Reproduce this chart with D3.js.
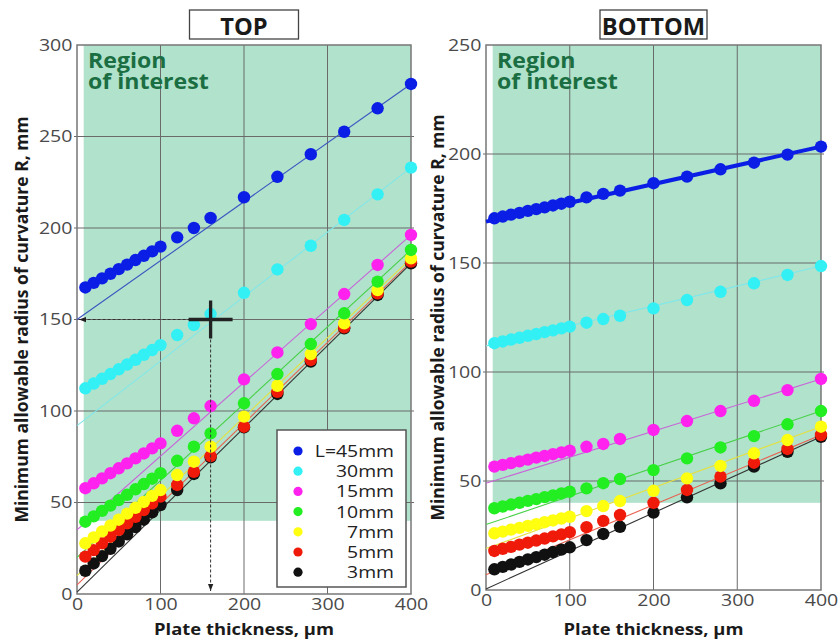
<!DOCTYPE html>
<html>
<head>
<meta charset="utf-8">
<script src="https://cdn.jsdelivr.net/npm/d3@7"></script>
<style>
  body { margin: 0; background: #fff; }
  svg { display: block; }
</style>
</head>
<body>
<script>
// plate thickness (µm) where R was computed
const thickness = [10, 20, 30, 40, 50, 60, 70, 80, 90, 100, 120, 140, 160, 200, 240, 280, 320, 360, 400];

// TOP panel, minimum allowable radius R (mm) per plate length
const top45 = [167.5, 170, 172.5, 175, 177.5, 180, 182.5, 184.8, 187.2, 189.8, 194.9, 200, 205.5, 216.8, 228, 240.3, 252.6, 265.4, 278.7];
const top30 = [112.4, 115, 117.6, 120.2, 122.8, 125.4, 128, 130.7, 133.3, 136, 141.5, 147, 153, 164.6, 177.4, 190.3, 204.4, 218.4, 233];
const top15 = [57.8, 60.5, 63.2, 66, 68.7, 71.4, 74.1, 76.8, 79.6, 82.3, 89.2, 96, 102.7, 117.3, 132, 147.5, 163.9, 179.8, 196.2];
const top10 = [39.5, 42.4, 45.4, 48.3, 51.3, 54.2, 57.2, 60.1, 63, 66, 72.8, 80.5, 87.8, 104.2, 120.2, 136.6, 153.4, 170.7, 188];
const top7 = [27.7, 30.9, 34.2, 37.4, 40.6, 43.9, 47.1, 50.3, 53.6, 56.8, 65, 72.3, 80.5, 96.9, 113.8, 131.1, 147.9, 166.1, 183.4];
const top5 = [20.4, 24, 27.7, 31.3, 35, 38.6, 42.2, 45.9, 49.5, 53.2, 59.6, 66.8, 75.4, 91.4, 110.5, 127.9, 145.7, 164.3, 181.6];
const top3 = [12.7, 16.7, 20.7, 24.7, 28.7, 32.6, 36.6, 40.6, 44.6, 48.6, 56.8, 65.6, 74.7, 91.1, 109.3, 127, 145.2, 163.4, 180.7];

// BOTTOM panel
const bot45 = [170.5, 171.3, 172.2, 173, 173.9, 174.7, 175.5, 176.4, 177.2, 178.1, 180.1, 181.7, 183.2, 186.6, 189.6, 193, 196, 199.7, 203.4];
const bot30 = [113.2, 114, 114.9, 115.7, 116.6, 117.4, 118.3, 119.1, 120, 120.8, 122.6, 124.3, 125.8, 129.2, 133, 136.8, 140.7, 144.5, 148.6];
const bot15 = [56.6, 57.4, 58.2, 59, 59.8, 60.7, 61.5, 62.3, 63.1, 63.9, 65.7, 67, 69.3, 73.4, 77.5, 82.1, 86.8, 91.7, 96.8];
const bot10 = [37.5, 38.3, 39.2, 40, 40.9, 41.7, 42.6, 43.4, 44.3, 45.1, 46.6, 49, 50.9, 55, 60.4, 65.4, 70.6, 76, 82.1];
const bot7 = [26, 26.8, 27.7, 28.5, 29.4, 30.2, 31.1, 31.9, 32.8, 33.6, 36.2, 38.5, 40.8, 45.5, 51.2, 56.9, 62.7, 68.8, 74.9];
const bot5 = [17.9, 18.9, 19.8, 20.8, 21.7, 22.7, 23.6, 24.6, 25.5, 26.5, 28.8, 31.7, 34.4, 40, 45.9, 52, 58.4, 64.7, 71.1];
const bot3 = [9.5, 10.6, 11.7, 12.9, 14, 15.1, 16.2, 17.4, 18.5, 19.6, 22.9, 25.7, 29, 35.5, 42.5, 48.9, 56.6, 63.4, 70.3];

// straight trend lines, value at 0 µm and at 400 µm
const topFitAt0 = [150, 92, 35, 20, 10, 5, 1];
const topFitAt400 = [278.7, 233, 196.2, 188, 183.4, 181.6, 180.7];
const botFitAt0 = [169, 112, 49, 30, 19, 7, 0.5];
const botFitAt400 = [203.4, 148.6, 96.8, 82.1, 74.9, 71.1, 70.3];

const legendLabels = ["L=45mm", "30mm", "15mm", "10mm", "7mm", "5mm", "3mm"];
const xTicks = [0, 100, 200, 300, 400];
const topYTicks = [0, 50, 100, 150, 200, 250, 300];
const botYTicks = [0, 50, 100, 150, 200, 250];
const regionFrom = 8;     // µm, left edge of region of interest
const regionMinR = 40;    // mm
const markThickness = 160;
const markRadius = 150;

const dotColors = ["#0a1ee6", "#33f0f5", "#ff22ee", "#22ee22", "#ffff10", "#f01a0a", "#111111"];
const fitColors = ["#3a55c0", "#80e8ea", "#c864d8", "#48d048", "#e4e040", "#e86050", "#333333"];

const W = 839, H = 639;
const svg = d3.select("body").append("svg")
    .attr("width", W).attr("height", H)
    .style("font-family", "'Open Sans', sans-serif");

const defs = svg.append("defs");
defs.append("marker")
    .attr("id", "arrow")
    .attr("viewBox", "0 -4 8 8")
    .attr("refX", 8).attr("refY", 0)
    .attr("markerWidth", 7).attr("markerHeight", 7)
    .attr("markerUnits", "userSpaceOnUse")
    .attr("orient", "auto")
    .append("path").attr("d", "M0,-3L8,0L0,3Z").attr("fill", "#222");

// text that is a bit wider than the font, like the original figure
function label(g, x, y, str, size, weight, anchor, fill, sx, rot) {
    return g.append("text")
        .attr("transform", `translate(${x},${y}) scale(${sx},1)` + (rot ? ` rotate(${rot})` : ""))
        .attr("text-anchor", anchor)
        .attr("font-size", size)
        .attr("font-weight", weight)
        .attr("fill", fill)
        .text(str);
}

const panels = [
    { title: "TOP", xr: [77, 411], yr: [594, 45], yMax: 300, yTicks: topYTicks,
      series: [top45, top30, top15, top10, top7, top5, top3],
      fit0: topFitAt0, fit400: topFitAt400, yTitleX: 21, thickFirst: false, legend: true, mark: true },
    { title: "BOTTOM", xr: [486, 821], yr: [590, 45], yMax: 250, yTicks: botYTicks,
      series: [bot45, bot30, bot15, bot10, bot7, bot5, bot3],
      fit0: botFitAt0, fit400: botFitAt400, yTitleX: 437, thickFirst: true, legend: false, mark: false }
];

panels.forEach(drawPanel);

function drawPanel(p) {
    const x = d3.scaleLinear().domain([0, 400]).range(p.xr);
    const y = d3.scaleLinear().domain([0, p.yMax]).range(p.yr);
    const g = svg.append("g");

    // region of interest
    g.append("rect")
        .attr("x", x(regionFrom)).attr("y", y(p.yMax))
        .attr("width", x(400) - x(regionFrom))
        .attr("height", y(regionMinR) - y(p.yMax))
        .attr("fill", "#b0e2cc");

    // grid
    g.selectAll(".vgrid").data(xTicks.slice(1, -1)).join("line")
        .attr("x1", d => x(d)).attr("x2", d => x(d))
        .attr("y1", y(0)).attr("y2", y(p.yMax))
        .attr("stroke", "#6a6a6a").attr("stroke-width", 1);
    g.selectAll(".hgrid").data(p.yTicks.slice(1, -1)).join("line")
        .attr("x1", x(0) - 3).attr("x2", x(400) + 3)
        .attr("y1", d => y(d)).attr("y2", d => y(d))
        .attr("stroke", "#6a6a6a").attr("stroke-width", 1);

    // frame
    g.append("rect")
        .attr("x", x(0)).attr("y", y(p.yMax))
        .attr("width", x(400) - x(0)).attr("height", y(0) - y(p.yMax))
        .attr("fill", "none").attr("stroke", "#777").attr("stroke-width", 1.5);

    // axes
    const xAxis = d3.axisBottom(x).tickValues(xTicks).tickSize(0).tickPadding(4);
    const yAxis = d3.axisLeft(y).tickValues(p.yTicks).tickSize(0).tickPadding(4);
    const gx = g.append("g").attr("transform", `translate(0,${y(0)})`).call(xAxis);
    const gy = g.append("g").attr("transform", `translate(${x(0)},0)`).call(yAxis);
    [gx, gy].forEach(a => {
        a.select(".domain").remove();
        a.selectAll("text")
            .attr("font-size", 17).attr("font-family", "'Open Sans', sans-serif")
            .attr("fill", "#4a4a4a").attr("transform", "scale(1.15,1)");
    });

    // region label
    label(g, x(0) + 11, 68, "Region", 21, 700, "start", "#1b6e42", 1.1);
    label(g, x(0) + 11, 89, "of interest", 21, 700, "start", "#1b6e42", 1.1);

    // trend lines
    const fits = p.fit0.map((v, i) => ({ i, a: v, b: p.fit400[i] }));
    g.selectAll(".fit").data(fits).join("line")
        .attr("x1", x(0)).attr("x2", x(400))
        .attr("y1", d => y(d.a)).attr("y2", d => y(d.b))
        .attr("stroke", d => (p.thickFirst && d.i === 0) ? dotColors[0] : fitColors[d.i])
        .attr("stroke-width", d => (p.thickFirst && d.i === 0) ? 4 : 1.1);

    // dots, 3mm drawn first so longer plates sit on top
    const order = d3.range(p.series.length).reverse();
    order.forEach(i => {
        g.append("g").selectAll("circle")
            .data(thickness.map((t, k) => [t, p.series[i][k]]))
            .join("circle")
            .attr("cx", d => x(d[0])).attr("cy", d => y(d[1]))
            .attr("r", 6.2)
            .attr("fill", dotColors[i]);
    });

    // example read-out on the TOP panel
    if (p.mark) {
        const cx = x(markThickness), cy = y(markRadius);
        g.append("line")
            .attr("x1", cx).attr("y1", cy).attr("x2", x(0) + 2).attr("y2", cy)
            .attr("stroke", "#333").attr("stroke-width", 1).attr("stroke-dasharray", "3,2")
            .attr("marker-end", "url(#arrow)");
        g.append("line")
            .attr("x1", cx).attr("y1", cy).attr("x2", cx).attr("y2", y(0) - 3)
            .attr("stroke", "#333").attr("stroke-width", 1).attr("stroke-dasharray", "3,2")
            .attr("marker-end", "url(#arrow)");
        g.append("line").attr("x1", cx - 22).attr("x2", cx + 22).attr("y1", cy).attr("y2", cy)
            .attr("stroke", "#222").attr("stroke-width", 3.3);
        g.append("line").attr("x1", cx).attr("x2", cx).attr("y1", cy - 19).attr("y2", cy + 19)
            .attr("stroke", "#222").attr("stroke-width", 3.3);
    }

    // legend
    if (p.legend) {
        const lg = g.append("g");
        lg.append("rect").attr("x", 277).attr("y", 430).attr("width", 129).attr("height", 157)
            .attr("fill", "#fff").attr("stroke", "#555").attr("stroke-width", 1.5);
        legendLabels.forEach((t, i) => {
            const ly = 451 + i * 20.2;
            lg.append("circle").attr("cx", 298).attr("cy", ly).attr("r", 4.6).attr("fill", dotColors[i]);
            label(lg, 394, ly + 6, t, 17, 400, "end", "#222", 1.14);
        });
    }

    // titles
    const mid = (p.xr[0] + p.xr[1]) / 2;
    const tw = p.title === "TOP" ? 109 : 107;
    g.append("rect").attr("x", mid - tw / 2).attr("y", 10).attr("width", tw).attr("height", 29)
        .attr("fill", "#fff").attr("stroke", "#444").attr("stroke-width", 1.3);
    label(g, mid, 35, p.title, 23, 700, "middle", "#1a1a1a", 1.03);
    label(g, mid, 635, "Plate thickness, µm", 16, 700, "middle", "#1a1a1a", 1.15);
    label(g, p.yTitleX, (p.yr[0] + p.yr[1]) / 2, "Minimum allowable radius of curvature R, mm", 17.5, 700, "middle", "#1a1a1a", 1, -90)
        .attr("dominant-baseline", "central");
}
</script>
</body>
</html>
